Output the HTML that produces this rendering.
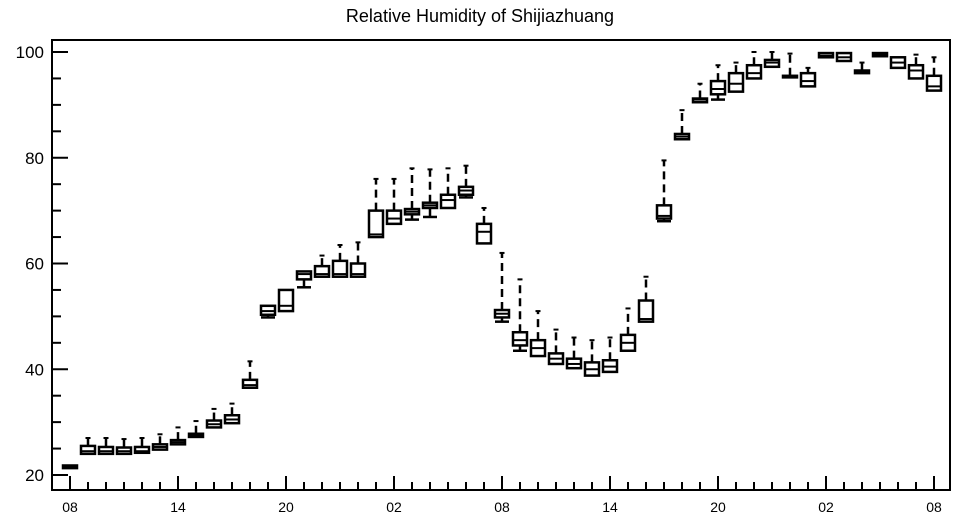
<!DOCTYPE html>
<html><head><meta charset="utf-8"><style>
body{margin:0;background:#fff;}
svg{display:block;font-family:"Liberation Sans",sans-serif;}
</style></head><body>
<svg id="chart" width="957" height="520">
<text x="480" y="22" text-anchor="middle" font-size="18">Relative Humidity of Shijiazhuang</text>
<g id="axes"></g>
<g id="boxes"></g>
</svg>
<script>
const hourLabels = ["08","14","20","02","08","14","20","02","08"];
const yTicks = [20,40,60,80,100];
const q1 = [21.3,24,24,24,24.2,24.8,25.8,27.2,29,29.8,36.5,50.3,51,57,57.5,57.5,57.5,65,67.5,69.3,70.5,70.5,73,63.8,49.8,44.5,42.5,41,40.2,38.8,39.5,43.5,49,68.5,83.5,90.5,92,92.5,95,97.2,95.2,93.5,99,98.3,96,99.2,97,95,92.7];
const q3 = [21.8,25.5,25.3,25.2,25.3,25.8,26.6,27.8,30.3,31.3,38,52,55,58.5,59.5,60.5,60,70,70,70.3,71.5,73,74.5,67.5,51.2,47,45.5,43,42,41.3,41.7,46.5,53,71,84.5,91.2,94.5,96,97.5,98.5,95.5,96,99.8,99.8,96.5,99.8,99,97.5,95.5];
const med = [21.5,24.5,24.5,24.5,24.5,25.3,26.2,27.5,29.6,30.5,37,51,52,58,58,58,58,65.5,68.5,69.8,71,72,73.8,66,50.5,45.5,44,42,41,40,40.5,45,49.5,69,84,91,93,94,96,98,95.3,94.5,99.3,99,96.3,99.5,98,96.5,93.5];
const hi = [21.8,27,27,26.8,27,27.7,29,30.2,32.5,33.5,41.5,52,55,58.5,61.5,63.5,64,76,76,78,77.8,78,78.5,70.5,62,57,51,47.5,46,45.5,46,51.5,57.5,79.5,89,94,97.5,98,100,100,99.7,97,99.8,99.8,98,99.8,99.7,99.5,99];
const lo = [21.3,24,24,24,24.2,24.8,25.8,27.2,29,29.8,36.5,49.8,51,55.5,57.5,57.5,57.5,65,67.5,68.3,68.8,70.5,72.5,63.8,49,43.5,42.5,41,40.2,38.8,39.5,43.5,49,68,83.5,90.5,91,92.5,95,97.2,95.2,93.5,99,98.3,96,99.2,97,95,92.7];

const L=52,R=950,T=40,B=490;
const yS=v=>475-(v-20)*(423/80);
const xS=i=>70+18*i;
const NS="http://www.w3.org/2000/svg";
function mk(tag,attrs,parent){const e=document.createElementNS(NS,tag);for(const k in attrs)e.setAttribute(k,attrs[k]);parent.appendChild(e);return e;}
const ax=document.getElementById('axes'), bx=document.getElementById('boxes');
const frame=mk('rect',{x:L,y:T,width:R-L,height:B-T,fill:'none',stroke:'#000','stroke-width':2},ax);


for(let v=20;v<=100;v+=5){
  const major=v%20===0;
  const t=mk('line',{x1:L,x2:L+(major?16:9),y1:yS(v),y2:yS(v),stroke:'#000','stroke-width':2},ax);
  
  
}
yTicks.forEach(v=>{
  const t=mk('text',{x:L-8,y:yS(v)+6,'text-anchor':'end','font-size':17},ax);
  t.textContent=v;
  
  
});
for(let i=0;i<49;i++){
  const major=i%6===0;
  const t=mk('line',{x1:xS(i),x2:xS(i),y1:B,y2:B-(major?14:8),stroke:'#000','stroke-width':2},ax);
  
  
}
hourLabels.forEach((s,k)=>{
  const t=mk('text',{x:xS(k*6),y:512,'text-anchor':'middle','font-size':14},ax);
  t.textContent=s;
  
  
});
for(let i=0;i<q1.length;i++){
  const g=mk('g',{},bx);
  
  
  const x=xS(i), w=14;
  const yt=yS(q3[i]), yb=yS(q1[i]);
  mk('rect',{x:x-w/2,y:yt,width:w,height:Math.max(yb-yt,1.5),fill:'none',stroke:'#000','stroke-width':2.5},g);
  mk('line',{x1:x-w/2,x2:x+w/2,y1:yS(med[i]),y2:yS(med[i]),stroke:'#000','stroke-width':2},g);
  if(hi[i]-q3[i]>0.8){
    mk('line',{x1:x,x2:x,y1:yt,y2:yS(hi[i]),stroke:'#000','stroke-width':2.5,'stroke-dasharray':'8,5'},g);
    mk('line',{x1:x-2.5,x2:x+2.5,y1:yS(hi[i]),y2:yS(hi[i]),stroke:'#000','stroke-width':2},g);
  }
  if(q1[i]-lo[i]>0.3){
    mk('line',{x1:x,x2:x,y1:yb,y2:yS(lo[i]),stroke:'#000','stroke-width':2.5},g);
    mk('line',{x1:x-w/2,x2:x+w/2,y1:yS(lo[i]),y2:yS(lo[i]),stroke:'#000','stroke-width':2.5},g);
  }
}
</script>
</body></html>
